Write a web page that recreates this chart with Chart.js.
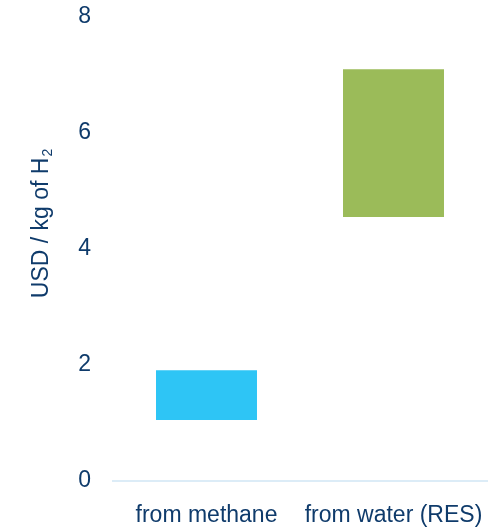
<!DOCTYPE html>
<html>
<head>
<meta charset="utf-8">
<script src="https://cdn.jsdelivr.net/npm/chart.js@4"></script>
<style>
  html, body { margin: 0; padding: 0; background: #fff; }
  #wrap { width: 497px; height: 530px; }
</style>
</head>
<body>
<div id="wrap"><canvas id="chart"></canvas></div>
<script>
const categories = ["from methane", "from water (RES)"];
const lowValues = [1.05, 4.55];
const highValues = [1.91, 7.10];
const barColors = ["#2ec5f5", "#9bbb59"];
const yTicks = [0, 2, 4, 6, 8];

const textColor = "#0f3b6b";
const fontFamily = "'Liberation Sans', Arial, sans-serif";
const fontSize = 23;

// y-axis title with subscript, drawn by hand
const yTitle = {
  id: "yTitle",
  afterDraw(chart) {
    const ctx = chart.ctx;
    const main = "USD / kg of H";
    ctx.save();
    ctx.font = fontSize + "px " + fontFamily;
    const w1 = ctx.measureText(main).width;
    ctx.font = "14px " + fontFamily;
    const w2 = ctx.measureText("2").width;
    const total = w1 + w2;
    ctx.translate(48, 224 + total / 2);
    ctx.rotate(-Math.PI / 2);
    ctx.fillStyle = textColor;
    ctx.textBaseline = "alphabetic";
    ctx.font = fontSize + "px " + fontFamily;
    ctx.fillText(main, 0, 0);
    ctx.font = "14px " + fontFamily;
    ctx.fillText("2", w1 + 1, 4);
    ctx.restore();
  }
};

new Chart(document.getElementById("chart"), {
  type: "bar",
  data: {
    labels: categories,
    datasets: [{
      data: categories.map((c, i) => [lowValues[i], highValues[i]]),
      backgroundColor: barColors,
      borderWidth: 0,
      barPercentage: 0.54,
      categoryPercentage: 1
    }]
  },
  options: {
    responsive: true,
    maintainAspectRatio: false,
    animation: false,
    layout: { padding: 0 },
    plugins: { legend: { display: false }, tooltip: { enabled: false } },
    scales: {
      x: {
        grid: { display: false, drawTicks: false },
        border: { display: true, color: "#dcecf7", width: 2 },
        ticks: {
          color: textColor,
          font: { family: fontFamily, size: fontSize },
          padding: 21,
          maxRotation: 0,
          autoSkip: false
        },
        afterFit: s => { s.height = 49; s.paddingLeft = 0; s.paddingRight = 10; }
      },
      y: {
        min: 0,
        max: 8,
        grid: { display: false, drawTicks: false },
        border: { display: false },
        afterBuildTicks: s => { s.ticks = yTicks.map(v => ({ value: v })); },
        ticks: {
          color: textColor,
          font: { family: fontFamily, size: fontSize },
          padding: 22
        },
        afterFit: s => { s.width = 113; s.paddingTop = 17; s.paddingBottom = 0; }
      }
    }
  },
  plugins: [yTitle]
});
</script>
</body>
</html>
